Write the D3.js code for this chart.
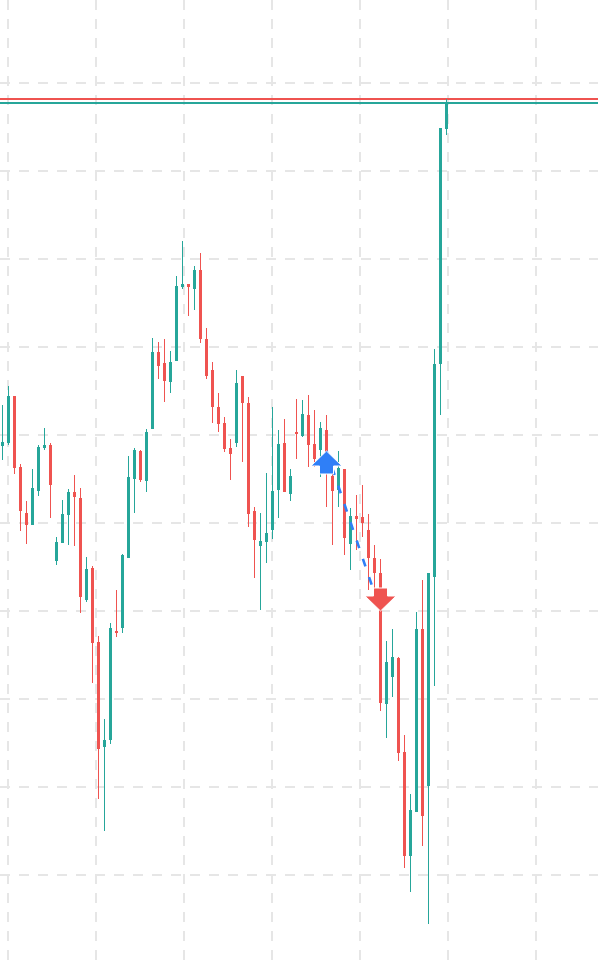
<!DOCTYPE html>
<html lang="en">
<head>
    <meta charset="UTF-8">
    <title>Candles</title>
    <style>
        html, body { margin: 0; padding: 0; background: #fff; }
        svg { display: block; }
        .grid line { stroke: #e6e6e6; stroke-width: 2; stroke-dasharray: 10 9; }
    </style>
    <script src="https://cdn.jsdelivr.net/npm/d3@7/dist/d3.min.js"></script>
</head>
<body>
<svg id="main" width="598" height="961"></svg>
<script>

    // OHLC per bar
    var opens = [517,520,567,496,450,438,472,515,518,402,
        420,448,471,465,363,395,321,216,223,332,
        335,405,484,512,482,534,611,600,581,602,
        676,679,674,693,624,593,556,540,515,520,
        587,560,452,417,421,433,473,520,469,531,
        527,548,519,513,533,487,473,494,419,447,
        446,433,405,390,259,286,305,211,107,151,
        334,177,386,599,834];
    var highs = [558,577,567,499,462,494,518,535,520,426,
        463,474,488,475,406,397,327,244,340,373,
        409,507,515,513,534,625,621,624,612,687,
        722,679,697,710,635,601,570,546,524,593,
        587,566,456,450,490,556,533,544,494,564,
        563,568,553,541,548,489,512,494,455,468,
        478,449,418,404,322,334,306,228,169,351,
        383,390,614,835,864];
    var lows = [503,518,489,432,419,438,467,513,445,398,
        420,418,417,350,361,280,164,132,219,326,
        330,405,450,481,471,534,584,561,570,602,
        674,647,653,620,584,540,531,511,483,516,
        501,436,385,353,400,424,445,471,462,504,
        526,496,496,486,456,418,456,408,393,413,
        426,373,373,252,225,266,202,95,71,151,
        117,39,277,548,828];
    var closes = [521,567,495,452,438,475,516,518,478,421,
        449,471,466,366,394,320,214,223,335,330,
        408,486,513,483,531,611,597,582,601,677,
        679,676,693,624,587,556,539,514,509,580,
        560,449,423,422,430,472,519,471,487,529,
        549,518,504,535,501,472,495,425,447,444,
        440,405,390,260,301,306,210,107,153,334,
        147,390,599,835,860];

    // grid
    var gridPrices = [88,176,264,352,440,528,616,704,792,880];
    var gridBars = [0.92, 15.58, 30.25, 44.92, 59.58, 74.25, 88.92];

    // trade: buy bar / price, sell bar / price
    var entryBar = 54, entryPrice = 512;
    var exitBar = 63, exitPrice = 352;

    var up = "#26a69a", down = "#ef5350", blue = "#2f7ff7";

    var svg = d3.select("#main"),
        width = +svg.attr("width"),
        height = +svg.attr("height");

    var x = d3.scaleLinear().domain([0, 74]).range([2.5, 446.5]);
    var y = d3.scaleLinear().domain([0, 963]).range([963, 0]);

    var data = opens.map(function(o, i) {
        return {i: i, o: o, h: highs[i], l: lows[i], c: closes[i]};
    });

    var grid = svg.append("g").attr("class", "grid");

    grid.selectAll(".gy")
        .data(gridPrices)
        .enter().append("line")
        .attr("x1", 0).attr("x2", width)
        .attr("y1", function(d) { return y(d); })
        .attr("y2", function(d) { return y(d); });

    grid.selectAll(".gx")
        .data(gridBars)
        .enter().append("line")
        .attr("y1", 0).attr("y2", height)
        .attr("x1", function(d) { return x(d); })
        .attr("x2", function(d) { return x(d); });

    // last high / last close price lines
    var last = data[data.length - 1];
    svg.append("line")
        .attr("x1", 0).attr("x2", width)
        .attr("y1", y(last.h)).attr("y2", y(last.h))
        .attr("stroke", down).attr("stroke-width", 2);
    svg.append("line")
        .attr("x1", 0).attr("x2", width)
        .attr("y1", y(last.c)).attr("y2", y(last.c))
        .attr("stroke", up).attr("stroke-width", 2);

    var candle = svg.append("g").selectAll("g")
        .data(data)
        .enter().append("g")
        .attr("fill", function(d) { return d.c >= d.o ? up : down; })
        .attr("stroke", function(d) { return d.c >= d.o ? up : down; });

    candle.append("line")
        .attr("x1", function(d) { return x(d.i); })
        .attr("x2", function(d) { return x(d.i); })
        .attr("y1", function(d) { return y(d.h); })
        .attr("y2", function(d) { return y(d.l); })
        .attr("stroke-width", 1);

    candle.append("rect")
        .attr("stroke", "none")
        .attr("x", function(d) { return x(d.i) - 1.5; })
        .attr("width", 3)
        .attr("y", function(d) { return y(Math.max(d.o, d.c)); })
        .attr("height", function(d) { return Math.max(1, Math.abs(y(d.o) - y(d.c))); });

    // dashed trade line
    svg.append("line")
        .attr("x1", x(entryBar)).attr("y1", y(entryPrice))
        .attr("x2", x(exitBar)).attr("y2", y(exitPrice))
        .attr("stroke", blue)
        .attr("stroke-width", 2.6)
        .attr("stroke-dasharray", "8 11.3")
        .attr("stroke-dashoffset", 2);

    // arrow: tip at (0,0), dir 1 = pointing up, -1 = pointing down
    function arrow(dir) {
        var hw = 15.5, sw = 7, hh = 15, len = 23;
        var pts = [[0, 0], [hw, hh], [sw, hh], [sw, len], [-sw, len], [-sw, hh], [-hw, hh]];
        return "M" + pts.map(function(p) { return p[0] + "," + (p[1] * dir); }).join("L") + "Z";
    }

    svg.append("path")
        .attr("d", arrow(1))
        .attr("transform", "translate(" + x(entryBar) + "," + y(entryPrice) + ")")
        .attr("fill", blue).attr("stroke", "#fff").attr("stroke-width", 1);

    svg.append("path")
        .attr("d", arrow(-1))
        .attr("transform", "translate(" + x(exitBar) + "," + y(exitPrice) + ")")
        .attr("fill", down).attr("stroke", "#fff").attr("stroke-width", 1);

</script>
</body>
</html>
